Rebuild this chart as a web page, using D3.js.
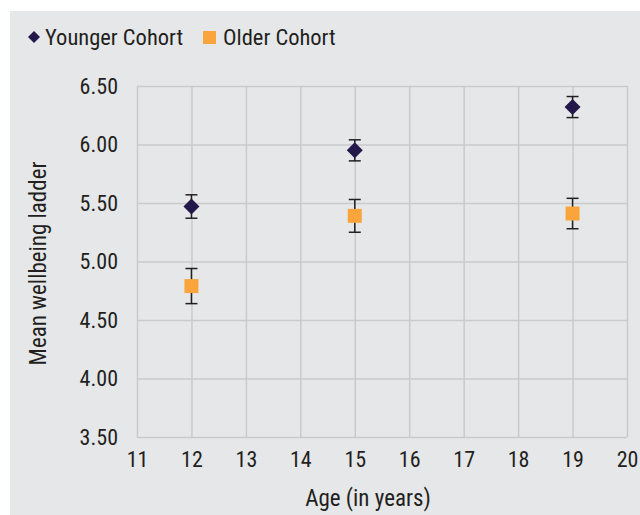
<!DOCTYPE html>
<html>
<head>
<meta charset="utf-8">
<script src="https://cdn.jsdelivr.net/npm/d3@7"></script>
<style>
  body { margin: 0; background: #fff; }
  svg { display: block; }
  text { font-family: "Liberation Sans Narrow", "Roboto Condensed", "Liberation Sans", sans-serif; fill: #231f20; }
</style>
</head>
<body>
<div id="vis"></div>
<script>
// data
let ages = [12, 15, 19]
let youngerMeans = [5.47, 5.95, 6.32]
let youngerErr = [0.10, 0.09, 0.09]
let olderMeans = [4.79, 5.39, 5.41]
let olderErr = [0.15, 0.14, 0.13]
let xTicks = [11, 12, 13, 14, 15, 16, 17, 18, 19, 20]
let yTicks = [3.5, 4.0, 4.5, 5.0, 5.5, 6.0, 6.5]

let W = 640, H = 515
let margin = { top: 86, left: 137, right: 13, bottom: 78 }

let svg = d3.select('#vis')
  .append('svg')
  .attr('width', W)
  .attr('height', H)

// grey panel
svg.append('rect')
  .attr('x', 10).attr('y', 11)
  .attr('width', W - 10).attr('height', H - 11)
  .attr('fill', '#e6e7e9')

let x = d3.scaleLinear().domain([11, 20]).range([margin.left, W - margin.right])
let y = d3.scaleLinear().domain([3.5, 6.5]).range([H - margin.bottom, margin.top])

// gridlines
svg.append('g')
  .attr('transform', `translate(0,${H - margin.bottom})`)
  .call(d3.axisBottom(x).tickValues(xTicks).tickSize(-(H - margin.bottom - margin.top)).tickFormat(d3.format('d')).tickPadding(14))
  .call(g => g.select('.domain').remove())
  .call(g => g.selectAll('line').attr('stroke', '#c9cacc').attr('stroke-width', 1.5))
  .call(g => g.selectAll('text').attr('font-size', 22).attr('fill', '#231f20'))

svg.append('g')
  .attr('transform', `translate(${margin.left},0)`)
  .call(d3.axisLeft(y).tickValues(yTicks).tickSize(-(W - margin.right - margin.left)).tickFormat(d3.format('.2f')).tickPadding(19))
  .call(g => g.select('.domain').remove())
  .call(g => g.selectAll('line').attr('stroke', '#c9cacc').attr('stroke-width', 1.5))
  .call(g => g.selectAll('text').attr('font-size', 22).attr('fill', '#231f20'))

// error bars + markers
function drawSeries(means, errs, cls) {
  let g = svg.append('g')
  let data = ages.map((a, i) => ({ age: a, m: means[i], e: errs[i] }))
  g.selectAll('line.stem').data(data).join('line')
    .attr('x1', d => x(d.age)).attr('x2', d => x(d.age))
    .attr('y1', d => y(d.m + d.e)).attr('y2', d => y(d.m - d.e))
    .attr('stroke', '#231f20').attr('stroke-width', 1.5)
  ;[1, -1].forEach(s => {
    g.selectAll('line.cap' + s).data(data).join('line')
      .attr('x1', d => x(d.age) - 6).attr('x2', d => x(d.age) + 6)
      .attr('y1', d => y(d.m + s * d.e)).attr('y2', d => y(d.m + s * d.e))
      .attr('stroke', '#231f20').attr('stroke-width', 1.5)
  })
  if (cls === 'younger') {
    g.selectAll('path').data(data).join('path')
      .attr('d', 'M0,-8L8,0L0,8L-8,0Z')
      .attr('transform', d => `translate(${x(d.age)},${y(d.m)})`)
      .attr('fill', '#24174a')
  } else {
    g.selectAll('rect').data(data).join('rect')
      .attr('x', d => x(d.age) - 7).attr('y', d => y(d.m) - 7)
      .attr('width', 14).attr('height', 14)
      .attr('fill', '#faa53c')
  }
}
drawSeries(youngerMeans, youngerErr, 'younger')
drawSeries(olderMeans, olderErr, 'older')

// legend
svg.append('path').attr('d', 'M0,-6L6,0L0,6L-6,0Z')
  .attr('transform', 'translate(34,37)').attr('fill', '#24174a')
svg.append('text').attr('x', 45).attr('y', 45).attr('font-size', 22.5).text('Younger Cohort')
svg.append('text').attr('x', 223).attr('y', 45).attr('font-size', 22.5).text('Older Cohort')
svg.append('rect').attr('x', 203).attr('y', 31).attr('width', 13).attr('height', 13).attr('fill', '#faa53c')

// axis titles
svg.append('text')
  .attr('transform', `translate(46,${(margin.top + H - margin.bottom) / 2 + 2}) rotate(-90)`)
  .attr('text-anchor', 'middle').attr('font-size', 23)
  .text('Mean wellbeing ladder')
svg.append('text')
  .attr('x', 368).attr('y', 506)
  .attr('text-anchor', 'middle').attr('font-size', 23)
  .text('Age (in years)')
</script>
</body>
</html>
